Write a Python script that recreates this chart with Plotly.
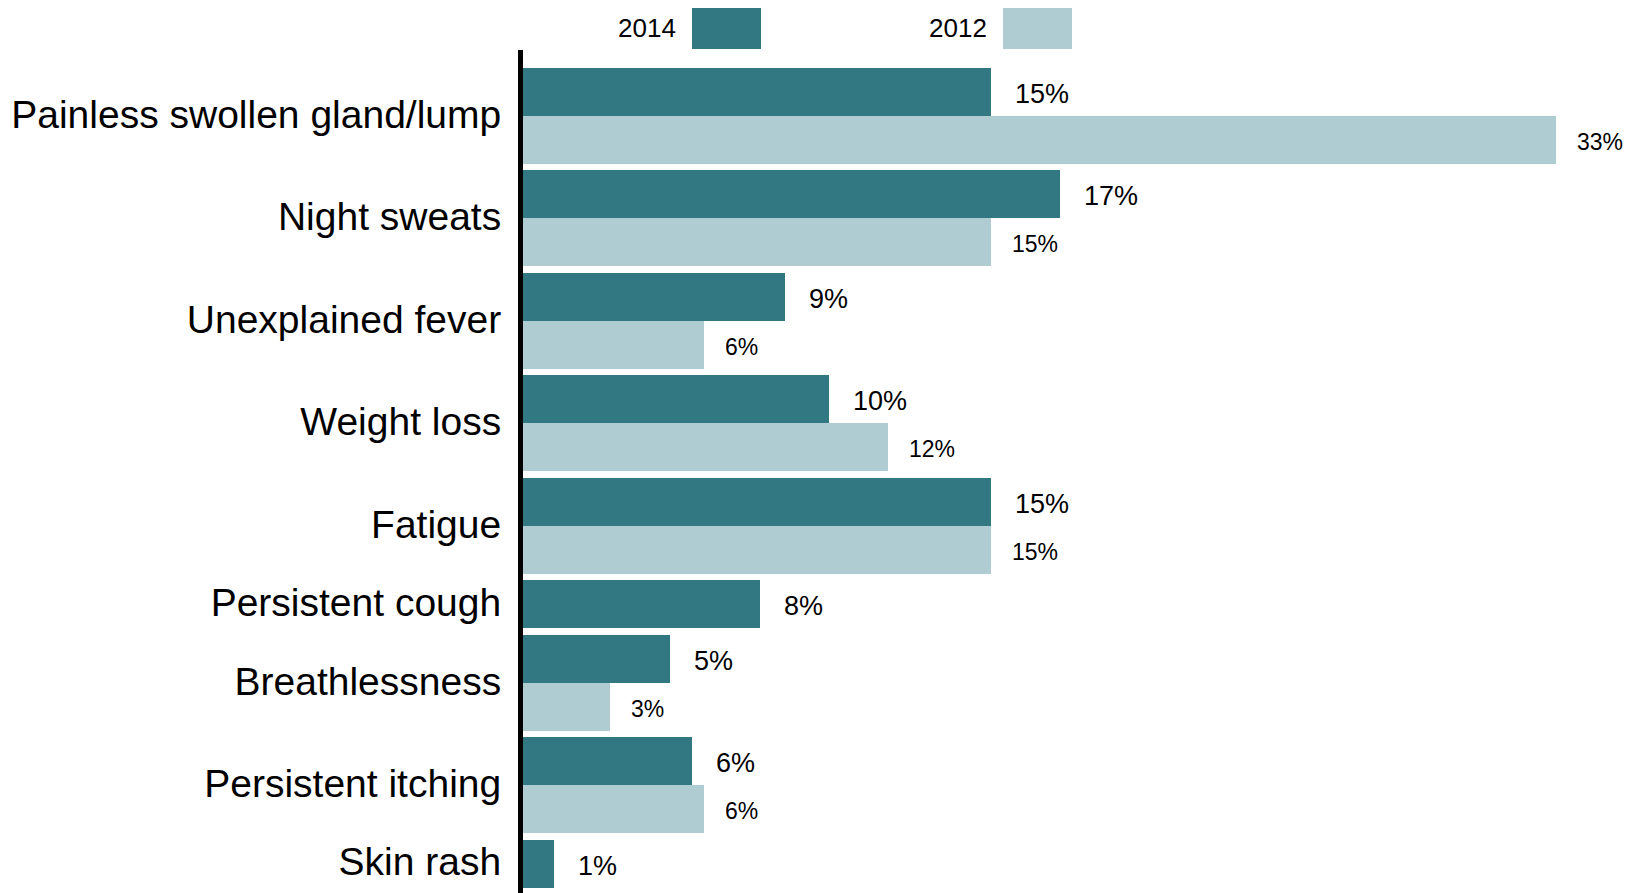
import plotly.graph_objects as go

# symptom categories, top to bottom
categories = [
    "Painless swollen gland/lump", "Night sweats", "Unexplained fever",
    "Weight loss", "Fatigue", "Persistent cough", "Breathlessness",
    "Persistent itching", "Skin rash",
]
# bar lengths (%); None = no 2012 bar
values_2014 = [15.0, 17.2, 8.4, 9.8, 15.0, 7.6, 4.7, 5.4, 1.0]
values_2012 = [33.1, 15.0, 5.8, 11.7, 15.0, None, 2.8, 5.8, None]
# printed labels as shown in the chart
labels_2014 = ["15%", "17%", "9%", "10%", "15%", "8%", "5%", "6%", "1%"]
labels_2012 = ["33%", "15%", "6%", "12%", "15%", None, "3%", "6%", None]

DARK = "#317882"
LIGHT = "#AFCCD2"
TEXT = "#000000"
FONT = "Liberation Sans, Arial, sans-serif"

W, H = 1639, 893
L, T = 515, 42    # page body adds 8px on each side
PX_PER_UNIT = 48  # one bar slot
GAP = 0.135       # gap between groups, in bar slots
LABEL_NUDGE = 2 / PX_PER_UNIT  # category labels sit a touch higher

# stack the bars: groups without a 2012 value take a single slot
pos = 0.0
y14, y12, tick_pos = [], [], []
for v12 in values_2012:
    y14.append(pos + 0.5)
    if v12 is None:
        y12.append(None)
        tick_pos.append(pos + 0.5 - LABEL_NUDGE)
        pos += 1
    else:
        y12.append(pos + 1.5)
        tick_pos.append(pos + 1 - LABEL_NUDGE)
        pos += 2
    pos += GAP

plot_h = H - T
y_top = -18 / PX_PER_UNIT
y_bottom = y_top + plot_h / PX_PER_UNIT
x_max = (W - L) / 31.22

fig = go.Figure()
fig.add_trace(go.Bar(
    y=y14, x=values_2014, orientation="h", width=1,
    marker=dict(color=DARK, line=dict(width=0)), name="2014",
))
fig.add_trace(go.Bar(
    y=[y for y in y12 if y is not None],
    x=[v for v in values_2012 if v is not None],
    orientation="h", width=1,
    marker=dict(color=LIGHT, line=dict(width=0)), name="2012",
))

annotations = []
for v, y, t in zip(values_2014, y14, labels_2014):
    annotations.append(dict(
        x=v, y=y, text=t, xref="x", yref="y", showarrow=False,
        xanchor="left", yanchor="middle", xshift=22, yshift=-2,
        font=dict(size=27, color=TEXT, family=FONT),
    ))
for v, y, t in zip(values_2012, y12, labels_2012):
    if v is None:
        continue
    annotations.append(dict(
        x=v, y=y, text=t, xref="x", yref="y", showarrow=False,
        xanchor="left", yanchor="middle", xshift=19, yshift=-2,
        font=dict(size=23, color=TEXT, family=FONT),
    ))


def px_x(px):
    return (px - L) / (W - L)


def px_y(py):
    return (H - py) / plot_h


# hand-made legend: text first, then the swatch (figure pixel coords)
shapes = []
for name, color, text_right, sw_left in [("2014", DARK, 670, 684), ("2012", LIGHT, 981, 995)]:
    shapes.append(dict(
        type="rect", xref="paper", yref="paper",
        x0=px_x(sw_left), x1=px_x(sw_left + 69), y0=px_y(41), y1=px_y(-1),
        fillcolor=color, line=dict(width=0),
    ))
    annotations.append(dict(
        x=px_x(text_right), y=px_y(20), xref="paper", yref="paper",
        text=name, showarrow=False, xanchor="right", yanchor="middle",
        font=dict(size=26, color=TEXT, family=FONT),
    ))

fig.update_layout(
    width=W, height=H,
    margin=dict(l=L, r=0, t=T, b=0),
    paper_bgcolor="white", plot_bgcolor="white",
    showlegend=False, bargap=0,
    annotations=annotations, shapes=shapes,
    font=dict(family=FONT, color=TEXT),
)
fig.update_xaxes(visible=False, range=[0, x_max])
fig.update_yaxes(
    range=[y_bottom, y_top],
    tickvals=tick_pos, ticktext=categories,
    tickfont=dict(size=39, color=TEXT, family=FONT),
    showline=True, linewidth=5, linecolor="black",
    ticks="outside", ticklen=9, tickcolor="rgba(0,0,0,0)",
    showgrid=False, zeroline=False,
)

fig.write_html("out.html")
